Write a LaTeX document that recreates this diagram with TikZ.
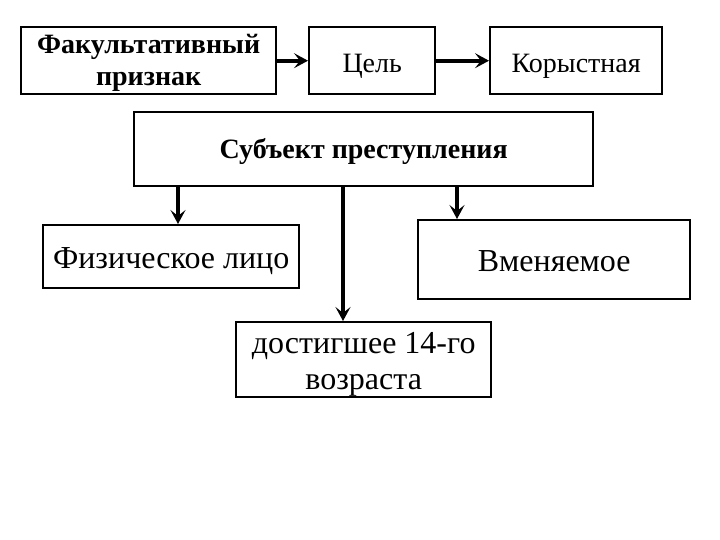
\documentclass[tikz,border=0pt]{standalone}
\usepackage{fontspec}
\setmainfont{Liberation Serif}
\usetikzlibrary{arrows.meta}
\begin{document}
\begin{tikzpicture}[x=1pt,y=-1pt,
  box/.style={draw,line width=2.4pt,inner sep=0pt,anchor=north west,align=center},
  one/.style={text height=23pt,text depth=0pt},
  arr/.style={line width=4pt,-{Stealth[length=14pt,width=15pt,inset=6pt]}}]
\useasboundingbox (0,0) rectangle (720,540);
\node[box,minimum width=255pt,minimum height=67pt,
  label={[align=center,font=\fontsize{28}{32}\selectfont\bfseries,yshift=-2pt]center:{Факультативный\\признак}}] (fak) at (20,26) {};
\node[box,one,minimum width=126pt,minimum height=67pt,font=\fontsize{28}{30}\selectfont] (cel) at (308,26) {Цель};
\node[box,one,minimum width=172pt,minimum height=67pt,font=\fontsize{28}{30}\selectfont] (kor) at (489,26) {Корыстная};
\node[box,text height=18pt,text depth=0pt,minimum width=459pt,minimum height=74pt,font=\fontsize{28}{30}\selectfont\bfseries] (sub) at (133,111) {Субъект преступления};
\node[box,one,minimum width=256pt,minimum height=63pt,font=\fontsize{32}{34}\selectfont] (fiz) at (42,224) {Физическое лицо};
\node[box,one,minimum width=272pt,minimum height=79pt,font=\fontsize{32}{34}\selectfont] (vme) at (417,219) {Вменяемое};
\node[box,minimum width=255pt,minimum height=75pt,
  label={[align=center,font=\fontsize{32}{36}\selectfont,yshift=-5pt]center:{достигшее 14-го\\возраста}}] (dos) at (235,321) {};
\draw[arr] (fak.east) -- (cel.west);
\draw[arr] (cel.east) -- (kor.west);
\coordinate (s1) at ([xshift=45pt]sub.south west);
\coordinate (s2) at ([xshift=210pt]sub.south west);
\coordinate (s3) at ([xshift=324pt]sub.south west);
\draw[arr] (s1) -- (s1 |- fiz.north);
\draw[arr] (s2) -- (s2 |- dos.north);
\draw[arr] (s3) -- (s3 |- vme.north);
\end{tikzpicture}
\end{document}
